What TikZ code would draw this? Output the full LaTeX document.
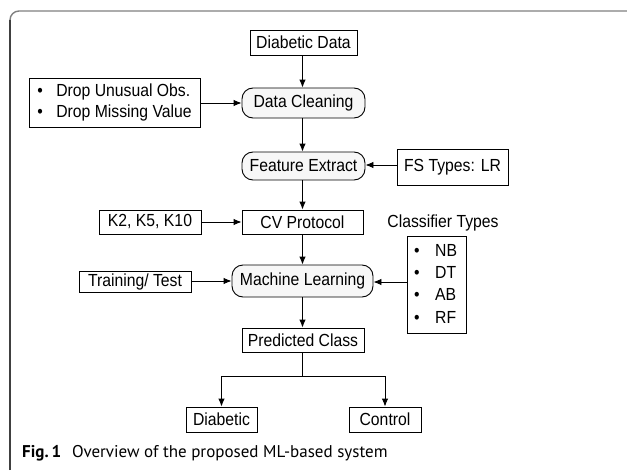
\documentclass[tikz,border=0pt]{standalone}
\usepackage{fontspec}
\setmainfont{Liberation Sans}[FakeStretch=0.9]
\newfontfamily\capfont{PT Sans}
\usetikzlibrary{arrows.meta}
\begin{document}
\begin{tikzpicture}[x=1pt,y=-1pt,
  box/.style={draw=black, line width=0.9pt, inner sep=0pt, font=\fontsize{17.5}{21}\selectfont},
  rbox/.style={box, rounded corners=11pt, fill=gray!6},
  arr/.style={-{Latex[length=8pt,width=6.5pt]}, line width=0.9pt},
  ln/.style={line width=0.9pt},
  bul/.style={font=\fontsize{17.5}{21}\selectfont, inner sep=0pt, anchor=west}
]
\useasboundingbox (0,0) rectangle (627,471);
% outer frame
\draw[gray, line width=1.4pt] (10,20) arc[start angle=180,end angle=270,radius=9] -- (627,11);
\draw[black!75, line width=1.2pt] (10,470) -- (10,20);

\node[box, minimum width=107pt, minimum height=25pt] (dd) at (303.5,42.5) {Diabetic Data};
\node[rbox, minimum width=123pt, minimum height=30pt] (dc) at (303.5,103) {Data Cleaning};
\node[box, minimum width=171pt, minimum height=49pt, align=left] (drop) at (114.5,102.5)
  {\makebox[19pt][l]{\textbullet}Drop Unusual Obs.\\\makebox[19pt][l]{\textbullet}Drop Missing Value};
\node[rbox, minimum width=123pt, minimum height=28pt] (fe) at (303.5,166) {Feature Extract};
\node[box, minimum width=111pt, minimum height=36pt] (fs) at (452.5,167) {FS Types: LR};
\node[box, minimum width=121pt, minimum height=24pt] (cv) at (302.5,222) {CV Protocol};
\node[box, minimum width=102pt, minimum height=24pt] (k2) at (150,222) {K2, K5, K10};
\node[font=\fontsize{17.5}{21}\selectfont, inner sep=0pt] (ct) at (443,223) {Classifier Types};
\node[box, minimum width=59pt, minimum height=97pt] (cls) at (436.5,284.5) {};
\node[bul] (nb) at (414,250) {\makebox[21pt][l]{\textbullet}NB};
\node[bul] (dt) at (414,272.3) {\makebox[21pt][l]{\textbullet}DT};
\node[bul] (ab) at (414,294.6) {\makebox[21pt][l]{\textbullet}AB};
\node[bul] (rf) at (414,317) {\makebox[21pt][l]{\textbullet}RF};
\node[rbox, minimum width=141pt, minimum height=32pt] (ml) at (302.5,281) {Machine Learning};
\node[box, minimum width=112pt, minimum height=21pt] (tt) at (135,281.5) {Training/ Test};
\node[box, minimum width=122pt, minimum height=24pt] (pc) at (303,340) {Predicted Class};
\node[box, minimum width=71pt, minimum height=25pt] (diab) at (221.5,419.5) {Diabetic};
\node[box, minimum width=72pt, minimum height=25pt] (ctrl) at (385,419.5) {Control};
\coordinate (split) at (302.5,376);

\draw[arr] (dd.south -| 302.5,0) -- (dc.north -| 302.5,0);
\draw[arr] (dc.south -| 302.5,0) -- (fe.north -| 302.5,0);
\draw[arr] (fe.south -| 302.5,0) -- (cv.north -| 302.5,0);
\draw[arr] (cv.south -| 302.5,0) -- (ml.north -| 302.5,0);
\draw[arr] (ml.south -| 302.5,0) -- (pc.north -| 302.5,0);
\draw[arr] (drop.east |- 0,103) -- (dc.west |- 0,103);
\draw[arr] (fs.west |- 0,165) -- (fe.east |- 0,165);
\draw[arr] (k2.east) -- (cv.west);
\draw[arr] (tt.east |- 0,281) -- (ml.west |- 0,281);
\draw[arr] (cls.west |- 0,282) -- (ml.east |- 0,282);
\draw[ln] (pc.south -| split) -- (split);
\draw[arr] (split) -| (diab.north);
\draw[arr] (split) -| (ctrl.north);

\node[font=\capfont\fontsize{17}{20}\selectfont, anchor=base west, inner sep=0pt] (cap) at (22,457.5)
  {\textbf{Fig.\,1}\hspace{11pt}Overview of the proposed ML-based system};
\end{tikzpicture}
\end{document}
